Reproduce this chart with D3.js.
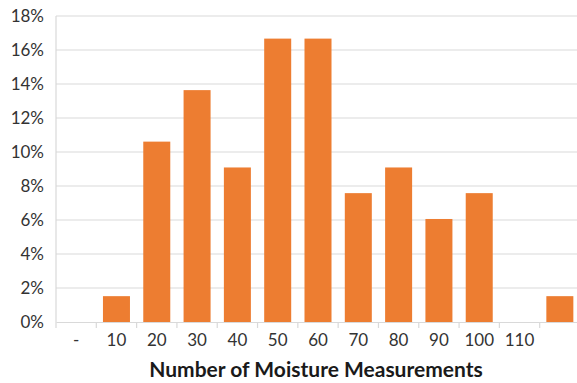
<!DOCTYPE html>
<html><head><meta charset="utf-8">
<script src="https://cdn.jsdelivr.net/npm/d3@7"></script>
<style>body{margin:0;background:#fff}svg{display:block}</style>
</head><body>
<svg id="c" width="577" height="383"></svg>
<script>
const categories = ["-", "10", "20", "30", "40", "50", "60", "70", "80", "90", "100", "110", ""];
const values = [0, 0.0152, 0.1061, 0.1364, 0.0909, 0.1667, 0.1667, 0.0758, 0.0909, 0.0606, 0.0758, 0, 0.0152];
const yTicks = [0, 0.02, 0.04, 0.06, 0.08, 0.10, 0.12, 0.14, 0.16, 0.18];
const xTitle = "Number of Moisture Measurements";

(function(){
const svg = d3.select("#c");
const font = "Lato, 'Liberation Sans', sans-serif";
const mLeft = 56, mRight = 580, mTop = 16, mBottom = 322;

const x = d3.scaleBand().domain(categories.map((d,i)=>i)).range([mLeft, mRight]).paddingInner(0.33).paddingOuter(0.165);
const xb = d3.scaleBand().domain(categories.map((d,i)=>i)).range([mLeft, mRight]);
const y = d3.scaleLinear().domain([0, 0.18]).range([mBottom, mTop]);

svg.append("g").selectAll("line").data(yTicks.slice(1)).join("line")
  .attr("x1", mLeft).attr("x2", 577).attr("y1", d=>y(d)).attr("y2", d=>y(d))
  .attr("stroke", "#d9d9d9").attr("stroke-width", 1.2);
svg.append("line").attr("x1", mLeft).attr("x2", mLeft).attr("y1", mTop).attr("y2", mBottom)
  .attr("stroke", "#d9d9d9").attr("stroke-width", 1.2);

svg.append("g").selectAll("rect").data(values).join("rect")
  .attr("x", (d,i)=>x(i)).attr("width", x.bandwidth())
  .attr("y", d=>y(d)).attr("height", d=>mBottom - y(d))
  .attr("fill", "#ed7d31");

const ya = d3.axisLeft(y).tickValues(yTicks).tickFormat(d3.format(".0%")).tickSize(0).tickPadding(12);
const gy = svg.append("g").attr("transform", `translate(${mLeft},0)`).call(ya);
gy.select(".domain").remove();
gy.selectAll("text").attr("font-family", font).attr("font-size", 17).attr("fill", "#333");

const xa = d3.axisBottom(xb).tickFormat(i=>categories[i]).tickSize(0).tickPadding(12);
const gx = svg.append("g").attr("transform", `translate(0,${mBottom})`).call(xa);
gx.select(".domain").attr("stroke", "#d9d9d9").attr("stroke-width", 1.2);
gx.selectAll("text").attr("font-family", font).attr("font-size", 17).attr("fill", "#333");
svg.append("g").selectAll("line").data(categories.map((d,i)=>i)).join("line")
  .attr("x1", i=>xb(i)).attr("x2", i=>xb(i)).attr("y1", mBottom).attr("y2", mBottom+6)
  .attr("stroke", "#d9d9d9").attr("stroke-width", 1.2);

svg.append("text").attr("x", 316).attr("y", 377).attr("text-anchor", "middle")
  .attr("font-family", font).attr("font-weight", "bold").attr("font-size", 21)
  .attr("fill", "#1a1a1a").text(xTitle);
})();
</script>
</body></html>
